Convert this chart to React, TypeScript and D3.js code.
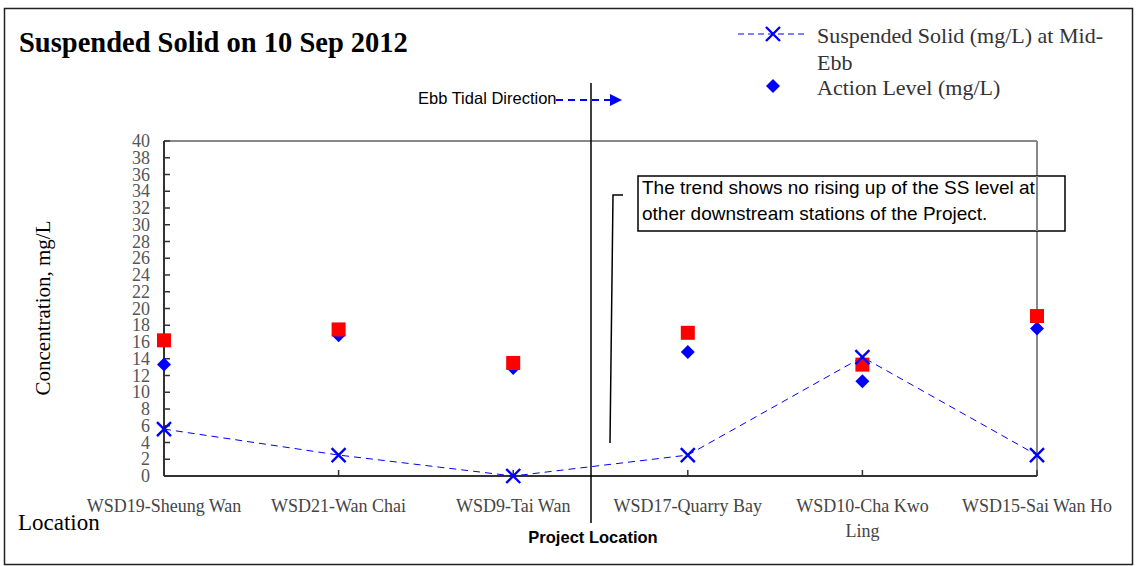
import React from "react";
import * as d3 from "d3";

const categories = [
  ["WSD19-Sheung Wan"],
  ["WSD21-Wan Chai"],
  ["WSD9-Tai Wan"],
  ["WSD17-Quarry Bay"],
  ["WSD10-Cha Kwo", "Ling"],
  ["WSD15-Sai Wan Ho"],
];
const ssMidEbb = [5.6, 2.5, 0, 2.5, 14.2, 2.5];
const actionLevel = [13.3, 16.8, 12.9, 14.8, 11.3, 17.6];
const limitLevel = [16.2, 17.5, 13.5, 17.1, 13.3, 19.1];
const yTicks = d3.range(0, 41, 2);

const W = 1138;
const H = 566;
const left = 164, right = 1037, top = 141, bottom = 476;

export default function App() {
  const x = d3.scalePoint<number>().domain(categories.map((_, i) => i)).range([left, right]).padding(0);
  const y = d3.scaleLinear().domain([0, 40]).range([bottom, top]);
  const line = d3
    .line<number>()
    .x((_, i) => x(i)!)
    .y((d) => y(d));
  const blue = "#0000ff";
  const xMark = (cx: number, cy: number, k: string) => (
    <path key={k} d={`M${cx - 7},${cy - 7}L${cx + 7},${cy + 7}M${cx - 7},${cy + 7}L${cx + 7},${cy - 7}`} stroke={blue} strokeWidth={2.4} fill="none" />
  );
  const diamond = (cx: number, cy: number, k: string) => (
    <path key={k} d={`M${cx},${cy - 7}L${cx + 7},${cy}L${cx},${cy + 7}L${cx - 7},${cy}Z`} fill={blue} />
  );
  const serif = "'Liberation Serif', 'DejaVu Serif', serif";
  const sans = "'Liberation Sans', Arial, sans-serif";
  return (
    <svg width={W} height={H} style={{ position: "absolute", left: 0, top: 0 }}>
      <rect x={0} y={0} width={W} height={H} fill="#fff" />
      <rect x={4.5} y={8.5} width={1128} height={556} fill="none" stroke="#222" strokeWidth={1.5} />
      <text x={19} y={52} fontFamily={serif} fontWeight="bold" fontSize={28.5} fill="#000">
        Suspended Solid on 10 Sep 2012
      </text>

      {/* legend */}
      <line x1={738} x2={808} y1={34} y2={34} stroke={blue} strokeWidth={1} strokeDasharray="6,4" />
      {xMark(773, 34, "lx")}
      <text x={817} y={43} fontFamily={serif} fontSize={22} fill="#333">
        <tspan x={817}>Suspended Solid (mg/L) at Mid-</tspan>
        <tspan x={817} dy={27}>Ebb</tspan>
      </text>
      {diamond(773, 86, "ld")}
      <text x={817} y={95} fontFamily={serif} fontSize={22} fill="#333">
        Action Level (mg/L)
      </text>

      {/* plot frame */}
      <line x1={left} x2={right} y1={top} y2={top} stroke="#888" strokeWidth={2} />
      <line x1={right} x2={right} y1={top} y2={bottom} stroke="#888" strokeWidth={2} />
      <line x1={left} x2={left} y1={top} y2={bottom} stroke="#333" strokeWidth={2} />
      <line x1={left} x2={right} y1={bottom} y2={bottom} stroke="#333" strokeWidth={2} />
      {yTicks.map((t) => (
        <g key={t}>
          <line x1={left} x2={left + 6} y1={y(t)} y2={y(t)} stroke="#333" strokeWidth={1.5} />
          <text x={150} y={y(t) + 6} textAnchor="end" fontFamily={serif} fontSize={18} fill="#555">
            {t}
          </text>
        </g>
      ))}
      {categories.map((c, i) => (
        <g key={i}>
          <line x1={x(i)!} x2={x(i)!} y1={bottom} y2={bottom - 6} stroke="#333" strokeWidth={1.5} />
          <text x={x(i)!} y={512} textAnchor="middle" fontFamily={serif} fontSize={18} fill="#444">
            {c.map((s, j) => (
              <tspan key={j} x={x(i)!} dy={j === 0 ? 0 : 25}>
                {s}
              </tspan>
            ))}
          </text>
        </g>
      ))}
      <text transform={`translate(50,308) rotate(-90)`} textAnchor="middle" fontFamily={serif} fontSize={21} fill="#000">
        Concentration, mg/L
      </text>
      <text x={18} y={530} fontFamily={serif} fontSize={23} fill="#000">
        Location
      </text>

      {/* project location line */}
      <line x1={591} x2={591} y1={83} y2={523} stroke="#000" strokeWidth={1.5} />
      <text x={593} y={543} textAnchor="middle" fontFamily={sans} fontWeight="bold" fontSize={16.5} fill="#000">
        Project Location
      </text>
      <text x={418} y={104} fontFamily={sans} fontSize={16.5} fill="#000">
        Ebb Tidal Direction
      </text>
      <line x1={556} x2={611} y1={100} y2={100} stroke={blue} strokeWidth={2} strokeDasharray="7,5" />
      <path d="M610,94L622,100L610,106Z" fill={blue} />

      {/* annotation */}
      <polyline points="610,443 613,195 623,195" fill="none" stroke="#000" strokeWidth={1.5} />
      <rect x={638} y={176} width={427} height={55} fill="#fff" stroke="#000" strokeWidth={1.5} />
      <text x={642} y={194} fontFamily={sans} fontSize={19} fill="#000">
        <tspan x={642}>The trend shows no rising up of the SS level at</tspan>
        <tspan x={642} dy={26}>other downstream stations of the Project.</tspan>
      </text>
      <line x1={right} x2={right} y1={176} y2={231} stroke="#888" strokeWidth={2} />

      {/* data */}
      <path d={line(ssMidEbb)!} fill="none" stroke={blue} strokeWidth={1} strokeDasharray="7,5" />
      {actionLevel.map((v, i) => diamond(x(i)!, y(v), "d" + i))}
      {limitLevel.map((v, i) => (
        <rect key={"s" + i} x={x(i)! - 7} y={y(v) - 7} width={14} height={14} fill="#ff0000" />
      ))}
      {ssMidEbb.map((v, i) => xMark(x(i)!, y(v), "x" + i))}
    </svg>
  );
}
